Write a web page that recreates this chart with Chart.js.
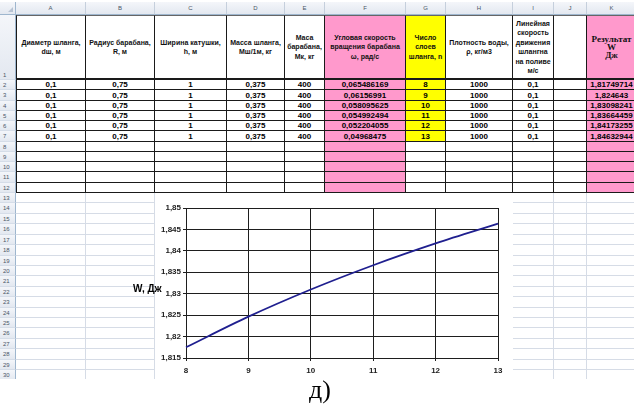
<!DOCTYPE html>
<html>
<head>
<meta charset="utf-8">
<script src="https://cdn.jsdelivr.net/npm/chart.js@4.4.1/dist/chart.umd.min.js"></script>
<style>
  html, body { margin: 0; padding: 0; background: #fff; }
  body { width: 634px; height: 412px; position: relative; overflow: hidden;
         font-family: "Liberation Sans", Arial, sans-serif; }
  #sheet { position: absolute; left: 0; top: 0; width: 634px; height: 379px; overflow: hidden; background: #fff; }
  .cell { position: absolute; box-sizing: border-box; display: flex; align-items: center;
          justify-content: center; text-align: center; overflow: hidden; white-space: nowrap; }
  .hdr { background: linear-gradient(#f4f6fa, #e3e8f0); color: #4a5566; font-size: 6px; }
  .title { font-weight: bold; font-size: 7px; line-height: 9.5px; color: #111; white-space: normal; }
  .titleK { font-family: "Liberation Serif", "Times New Roman", serif; font-weight: bold;
            font-size: 9px; line-height: 8px; color: #111; white-space: normal; }
  .val { font-weight: bold; font-size: 8px; color: #000; }
  #chartBg { position: absolute; left: 155px; top: 193px; width: 358px; height: 192px; background: #fff; }
  #chart { position: absolute; left: 125px; top: 193px; }
  #caption { position: absolute; left: 290px; top: 377px; width: 60px; text-align: center;
             font-family: "Liberation Serif", "Times New Roman", serif; font-size: 26px; line-height: 26px; color: #000; }
</style>
</head>
<body>
<div id="sheet"></div>
<div id="chartBg"></div>
<canvas id="chart" width="388" height="192"></canvas>
<div id="caption">д)</div>

<script>
// ---- sheet data ----
const columnLetters = ['A', 'B', 'C', 'D', 'E', 'F', 'G', 'H', 'I', 'J', 'K'];
const columnTitles = [
  ['Диаметр шланга,', 'dш, м'],
  ['Радиус барабана,', 'R, м'],
  ['Ширина катушки,', 'h, м'],
  ['Масса шланга,', 'Мш/1м, кг'],
  ['Маса', 'барабана,', 'Мк, кг'],
  ['Угловая скорость', 'вращения барабана', 'ω, рад/с'],
  ['Число', 'слоев', 'шланга, n'],
  ['Плотность воды,', 'ρ, кг/м3'],
  ['Линейная', 'скорость', 'движения', 'шлангна', 'на поливе', 'м/с'],
  [],
  ['Результат', 'W', 'Дж']
];
const hoseDiameter = [0.1, 0.1, 0.1, 0.1, 0.1, 0.1];
const drumRadius   = [0.75, 0.75, 0.75, 0.75, 0.75, 0.75];
const reelWidth    = [1, 1, 1, 1, 1, 1];
const hoseMass     = [0.375, 0.375, 0.375, 0.375, 0.375, 0.375];
const drumMass     = [400, 400, 400, 400, 400, 400];
const angularSpeed = [0.065486169, 0.06156991, 0.058095625, 0.054992494, 0.052204055, 0.04968475];
const hoseLayers   = [8, 9, 10, 11, 12, 13];
const waterDensity = [1000, 1000, 1000, 1000, 1000, 1000];
const hoseSpeed    = [0.1, 0.1, 0.1, 0.1, 0.1, 0.1];
const emptyColumn  = ['', '', '', '', '', ''];
const energyW      = [1.81749714, 1.824643, 1.83098241, 1.83664459, 1.84173255, 1.84632944];

// ---- chart axis text ----
const wTickLabels = ['1,815', '1,82', '1,825', '1,83', '1,835', '1,84', '1,845', '1,85'];
const layerTickLabels = ['8', '9', '10', '11', '12', '13'];
const yAxisTitle = 'W, Дж';

const sheetColumns = [hoseDiameter, drumRadius, reelWidth, hoseMass, drumMass,
  angularSpeed, hoseLayers, waterDensity, hoseSpeed, emptyColumn, energyW];

// ---- sheet geometry ----
const colEdges = [0, 16, 86, 155, 227, 285, 325, 406, 446, 513, 554, 587, 637];
const headTop = 2, headBottom = 15, titleBottom = 80, tableBottom = 193, lowRowH = 10.42;
const dataRowH = (tableBottom - titleBottom) / 11;
const PINK = '#ff99cc', YELLOW = '#ffff00';

function rowTop(r) {
  if (r === 1) return headBottom;
  if (r <= 12) return titleBottom + (r - 2) * dataRowH;
  return tableBottom + (r - 13) * lowRowH;
}
function rowBottom(r) { return r === 1 ? titleBottom : rowTop(r + 1); }
const fmt = v => (v === '' ? '' : String(v).replace('.', ','));

const sheet = document.getElementById('sheet');
function addCell(x0, y0, x1, y1, cls, style, html) {
  const d = document.createElement('div');
  d.className = 'cell ' + cls;
  const l = Math.round(x0), t = Math.round(y0);
  d.style.left = l + 'px';
  d.style.top = t + 'px';
  d.style.width = (Math.round(x1) - l) + 'px';
  d.style.height = (Math.round(y1) - t) + 'px';
  Object.assign(d.style, style);
  if (html !== undefined) d.innerHTML = html;
  sheet.appendChild(d);
  return d;
}

// corner + column letters
addCell(0, headTop, colEdges[1], headBottom, 'hdr',
  { borderRight: '1px solid #9eb6ce', borderBottom: '1px solid #9eb6ce' },
  '<span style="display:block;width:0;height:0;border-left:5px solid transparent;border-bottom:5px solid #b7c3d3;position:absolute;right:2px;bottom:2px"></span>');
columnLetters.forEach((L, c) => {
  addCell(colEdges[c + 1], headTop, colEdges[c + 2], headBottom, 'hdr',
    { borderRight: '1px solid #c5cfdc', borderBottom: '1px solid #9eb6ce' }, L);
});

// row numbers
for (let r = 1; r <= 31; r++) {
  const d = addCell(0, rowTop(r), colEdges[1], rowBottom(r), 'hdr',
    { borderRight: '1px solid #9eb6ce', borderBottom: '1px solid #d5dde8', justifyContent: 'flex-start',
      paddingLeft: '3px', fontSize: '6px' }, String(r));
  if (r === 1) { d.style.alignItems = 'flex-end'; d.style.paddingBottom = '1px'; }
}

// bordered table, rows 1..12
for (let r = 1; r <= 12; r++) {
  for (let c = 0; c < 11; c++) {
    let bg = '#fff';
    if (c === 5 || c === 10) bg = PINK;
    if (c === 6 && r <= 7) bg = YELLOW;
    const style = {
      background: bg,
      borderRight: '1px solid #1a1a1a',
      borderBottom: (r === 1 ? '2px' : (r === 12 ? '1.5px' : '1px')) + ' solid #1a1a1a'
    };
    if (c === 0) style.borderLeft = '1px solid #1a1a1a';
    if (r === 1) style.borderTop = '1px solid #666';
    let cls = '', html = '';
    if (r === 1) {
      cls = c === 10 ? 'titleK' : 'title';
      html = columnTitles[c].join('<br>');
    } else if (r <= 7) {
      cls = 'val';
      html = fmt(sheetColumns[c][r - 2]);
    }
    addCell(colEdges[c + 1], rowTop(r), colEdges[c + 2], rowBottom(r), cls, style, html);
  }
}

// plain grid below the table
for (let r = 13; r <= 31; r++) {
  for (let c = 0; c < 11; c++) {
    addCell(colEdges[c + 1], rowTop(r), colEdges[c + 2], rowBottom(r), '',
      { borderRight: '1px solid #d6dce6', borderBottom: '1px solid #d6dce6' });
  }
}

// ---- chart ----
// horizontal axis caption drawn beside the value labels
const axisTitlePlugin = {
  id: 'axisTitle',
  afterDraw(chart) {
    const ctx = chart.ctx;
    const y = chart.scales.y.getPixelForValue(1.83) - 4;
    ctx.save();
    ctx.font = 'bold 10px "Liberation Sans", Arial, sans-serif';
    ctx.fillStyle = '#000';
    ctx.textAlign = 'left';
    ctx.textBaseline = 'middle';
    ctx.fillText(yAxisTitle, 8, y);
    ctx.restore();
  }
};

const tickFont = { family: '"Liberation Sans", Arial, sans-serif', size: 8, weight: 'bold' };
const gridColor = '#1e1e1e';

new Chart(document.getElementById('chart').getContext('2d'), {
  type: 'line',
  data: {
    labels: layerTickLabels,
    datasets: [{
      data: energyW,
      borderColor: '#1f1f8f',
      borderWidth: 1.8,
      pointRadius: 0,
      fill: false,
      cubicInterpolationMode: 'monotone'
    }]
  },
  options: {
    responsive: false,
    animation: false,
    devicePixelRatio: 1,
    layout: { padding: { left: 0, right: 15, top: 15, bottom: 0 } },
    plugins: { legend: { display: false }, tooltip: { enabled: false } },
    scales: {
      x: {
        grid: { color: gridColor, lineWidth: 1, tickLength: 3 },
        border: { color: gridColor, width: 1 },
        ticks: { font: tickFont, color: '#222', padding: 5, maxRotation: 0, autoSkip: false },
        afterFit(s) { s.height = 27; }
      },
      y: {
        min: 1.815,
        max: 1.85,
        grid: { color: gridColor, lineWidth: 1, tickLength: 3 },
        border: { color: gridColor, width: 1 },
        ticks: {
          stepSize: 0.005,
          autoSkip: false,
          font: tickFont,
          color: '#222',
          padding: 2,
          callback: (v, i) => wTickLabels[i]
        },
        afterFit(s) { s.width = 61; }
      }
    }
  },
  plugins: [axisTitlePlugin]
});
</script>
</body>
</html>
